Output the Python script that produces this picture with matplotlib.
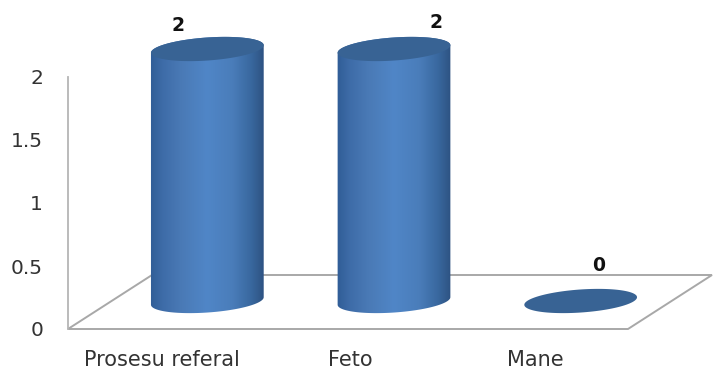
import numpy as np
import matplotlib
matplotlib.use("Agg")
import matplotlib.pyplot as plt
from matplotlib.colors import LinearSegmentedColormap
from matplotlib.patches import Polygon
from matplotlib.path import Path
from matplotlib.transforms import Affine2D, IdentityTransform

categories = ["Prosesu referal", "Feto", "Mane"]
values = [2, 2, 0]
yticks = [0, 0.5, 1, 1.5, 2]
yticklabels = ["0", "0.5", "1", "1.5", "2"]

W, H = 713, 369
plt.rcParams["font.family"] = ["DejaVu Sans"]
fig = plt.figure(figsize=(W / 100, H / 100), dpi=100)
ax = fig.add_axes([68 / W, (H - 329) / H, 560 / W, 252 / H])
ax.set_xlim(-0.5, 2.5)
ax.set_ylim(0, 2)
ax.patch.set_visible(False)
for s in ["top", "right", "bottom"]:
    ax.spines[s].set_visible(False)
ax.spines["left"].set_color("#b5b5b5")
ax.spines["left"].set_linewidth(1.3)
ax.set_yticks(yticks)
ax.set_yticklabels(yticklabels, fontsize=14.5, color="#333333")
ax.tick_params(axis="y", length=0, pad=18)
ax.set_xticks(range(len(categories)))
ax.set_xticklabels(categories, fontsize=15, color="#333333")
ax.tick_params(axis="x", length=0, pad=15)
for lab, shift in zip(ax.get_xticklabels(), [1, 2, 1]):
    lab.set_transform(lab.get_transform() + Affine2D().translate(shift, 0))

# floor of the 3D plot
floor = [(68, H - 329), (628, H - 329), (712, H - 275), (152, H - 275)]
ax.add_patch(Polygon(floor, closed=True, fill=False, ec="#a8a8a8", lw=1.4,
                     transform=IdentityTransform(), clip_on=False, zorder=1))

DX, DY = 46, 28       # depth offset of the bars, px
A, B, ROT = 56.5, 11.5, np.deg2rad(4)
cmap = LinearSegmentedColormap.from_list("cyl", [
    (0.0, "#2f5c95"), (0.12, "#3e6ca8"), (0.28, "#4a7ab6"), (0.5, "#5086c7"),
    (0.72, "#4a7dba"), (0.88, "#39689f"), (1.0, "#2d5180")])
grad = np.linspace(0, 1, 256)[None, :]
off = ax.transData + Affine2D().translate(DX, DY)
label_offsets = [(-29, 14), (42, 17), (18, 26)]


def ell(cx, cy, t):
    return np.c_[cx + A * np.cos(t) * np.cos(ROT) - B * np.sin(t) * np.sin(ROT),
                 cy + A * np.cos(t) * np.sin(ROT) + B * np.sin(t) * np.cos(ROT)]


for i, (cat, v) in enumerate(zip(categories, values)):
    cx, c0 = off.transform((i, 0))
    _, c1 = off.transform((i, v))
    t0 = np.arctan2(-B * np.sin(ROT), A * np.cos(ROT))
    low = ell(cx, c0, np.linspace(t0 + np.pi, t0 + 2 * np.pi, 60))
    high = ell(cx, c1, np.linspace(t0, t0 + np.pi, 60))
    if v > 0:
        verts = np.vstack([low, high, low[:1]])
        im = ax.imshow(grad, cmap=cmap, aspect="auto", zorder=3,
                       extent=[i - 0.31, i + 0.31, -0.3, v + 0.3],
                       transform=off, interpolation="bilinear")
        im.set_clip_box(fig.bbox)
        im.set_clip_path(Path(verts), IdentityTransform())
    top = ell(cx, c1, np.linspace(0, 2 * np.pi, 120))
    ax.add_patch(Polygon(top, closed=True, fc="#386394", ec="none", zorder=4,
                         transform=IdentityTransform(), clip_on=False))
    ax.annotate(str(v), xy=(i, v), xycoords=off, xytext=label_offsets[i],
                textcoords="offset pixels", ha="center", va="bottom",
                fontsize=13.5, fontweight="bold", color="#111111",
                annotation_clip=False, zorder=5)

ax.set_xlim(-0.5, 2.5)
ax.set_ylim(0, 2)
fig.savefig("out.png", dpi=100)
